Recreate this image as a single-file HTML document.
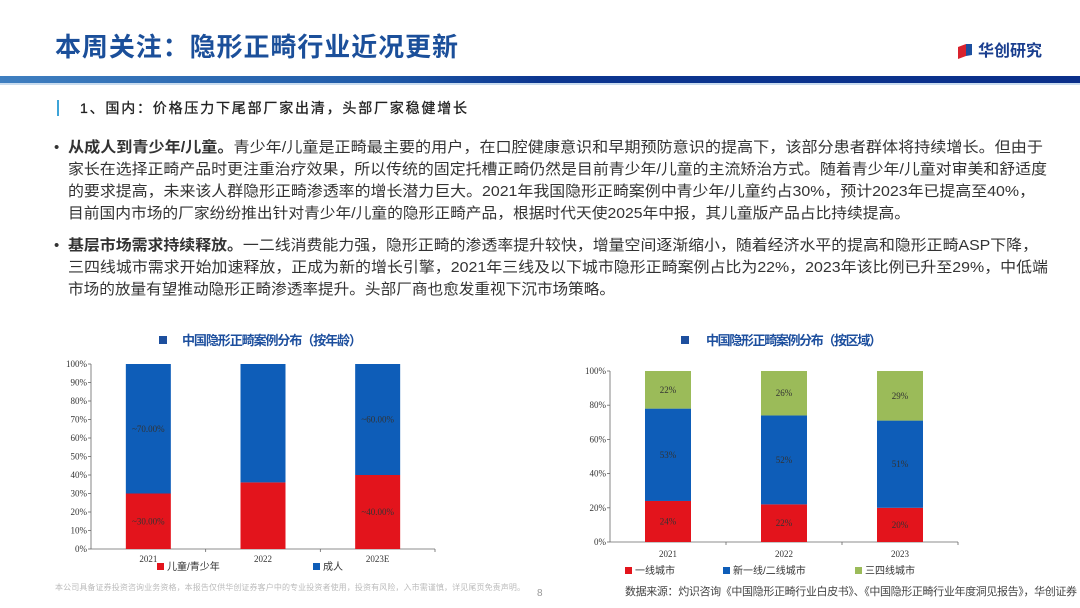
<!DOCTYPE html>
<html><head><meta charset="utf-8"><style>
html,body{margin:0;padding:0;background:#fff;width:1080px;height:608px;overflow:hidden}
svg{display:block}
text{font-family:"Liberation Sans","Noto Sans CJK SC",sans-serif}
.s{font-family:"Liberation Serif","Noto Serif CJK SC",serif}
</style></head><body>
<svg id="page" width="1080" height="608" viewBox="0 0 1080 608">
<defs>
<linearGradient id="hb" x1="0" x2="1" y1="0" y2="0">
<stop offset="0" stop-color="#3f7fc0"/><stop offset="0.35" stop-color="#1f5aa8"/><stop offset="0.5" stop-color="#0c3690"/><stop offset="1" stop-color="#0a2f8a"/>
</linearGradient>
</defs>
<text x="55" y="56" font-size="26" font-weight="bold" fill="#1b4f9a" textLength="403">本周关注：隐形正畸行业近况更新</text>
<g>
<polygon points="958,47 966,44 966,56 958,59" fill="#d9232e"/>
<polygon points="966,44 972,44 972,55 966,56" fill="#1d4f9e"/>
<text x="978" y="56" font-size="16" font-weight="bold" fill="#1b3f8f" textLength="64">华创研究</text>
</g>
<rect x="0" y="76" width="1080" height="7" fill="url(#hb)"/>
<rect x="0" y="83" width="1080" height="2" fill="#c9dcef"/>
<rect x="57" y="100" width="2" height="16" fill="#3ea4d8"/>
<text x="80" y="113" font-size="14" fill="#222" stroke="#222" stroke-width="0.3" textLength="387">1、国内：价格压力下尾部厂家出清，头部厂家稳健增长</text>
<g font-size="15" fill="#333">
<text x="54" y="152">•</text>
<text x="68" y="152" textLength="975" lengthAdjust="spacingAndGlyphs"><tspan font-weight="bold">从成人到青少年/儿童。</tspan>青少年/儿童是正畸最主要的用户，在口腔健康意识和早期预防意识的提高下，该部分患者群体将持续增长。但由于</text>
<text x="68" y="174" textLength="979" lengthAdjust="spacingAndGlyphs">家长在选择正畸产品时更注重治疗效果，所以传统的固定托槽正畸仍然是目前青少年/儿童的主流矫治方式。随着青少年/儿童对审美和舒适度</text>
<text x="68" y="196" textLength="967" lengthAdjust="spacingAndGlyphs">的要求提高，未来该人群隐形正畸渗透率的增长潜力巨大。2021年我国隐形正畸案例中青少年/儿童约占30%，预计2023年已提高至40%，</text>
<text x="68" y="218" textLength="842" lengthAdjust="spacingAndGlyphs">目前国内市场的厂家纷纷推出针对青少年/儿童的隐形正畸产品，根据时代天使2025年中报，其儿童版产品占比持续提高。</text>
<text x="54" y="250">•</text>
<text x="68" y="250" textLength="970" lengthAdjust="spacingAndGlyphs"><tspan font-weight="bold">基层市场需求持续释放。</tspan>一二线消费能力强，隐形正畸的渗透率提升较快，增量空间逐渐缩小，随着经济水平的提高和隐形正畸ASP下降，</text>
<text x="68" y="272" textLength="980" lengthAdjust="spacingAndGlyphs">三四线城市需求开始加速释放，正成为新的增长引擎，2021年三线及以下城市隐形正畸案例占比为22%，2023年该比例已升至29%，中低端</text>
<text x="68" y="294" textLength="547" lengthAdjust="spacingAndGlyphs">市场的放量有望推动隐形正畸渗透率提升。头部厂商也愈发重视下沉市场策略。</text>
</g>
<g id="c1">
<rect x="159" y="336" width="8" height="8" fill="#1d4f9e"/>
<text x="182" y="345" font-size="13" font-weight="bold" fill="#1d4f9e" textLength="180">中国隐形正畸案例分布（按年龄）</text>
</g>
<g id="c2">
<rect x="681" y="336" width="8" height="8" fill="#1d4f9e"/>
<text x="706" y="345" font-size="13" font-weight="bold" fill="#1d4f9e" textLength="176">中国隐形正畸案例分布（按区域）</text>
</g>
<text x="55" y="590" font-size="8" fill="#bbb" textLength="470">本公司具备证券投资咨询业务资格，本报告仅供华创证券客户中的专业投资者使用，投资有风险，入市需谨慎，详见尾页免责声明。</text>
<text x="537" y="596" font-size="10" fill="#999">8</text>
<text x="625" y="595" font-size="11" fill="#444" textLength="452">数据来源：灼识咨询《中国隐形正畸行业白皮书》、《中国隐形正畸行业年度洞见报告》，华创证券</text>
</svg>
<script>
var ageCategories = ["2021", "2022", "2023E"];
var ageChild = [30, 36, 40];
var ageAdult = [70, 64, 60];
var ageChildLabels = ["~30.00%", "", "~40.00%"];
var ageAdultLabels = ["~70.00%", "", "~60.00%"];
var ageTicks = [0,10,20,30,40,50,60,70,80,90,100];

var regCategories = ["2021", "2022", "2023"];
var regTier1 = [24, 22, 20];
var regNewTier = [53, 52, 51];
var regTier3 = [22, 26, 29];
var regTicks = [0,20,40,60,80,100];

var NS = "http://www.w3.org/2000/svg";
function mk(parent, tag, attrs, txt){
  var e = document.createElementNS(NS, tag);
  for (var k in attrs) e.setAttribute(k, attrs[k]);
  if (txt !== undefined) e.textContent = txt;
  parent.appendChild(e); return e;
}
var RED = "#e3141c", BLUE = "#0e5db8", GREEN = "#9bbb59";

(function(){
  var g = document.getElementById("c1");
  var x0 = 91, x1 = 435, yTop = 364, yBot = 549;
  function y(v){ return yBot - (yBot - yTop) * v / 100; }
  var step = (x1 - x0) / ageCategories.length, bw = 45;
  function xc(i){ return x0 + step * (i + 0.5); }
  ageTicks.forEach(function(t){
    var tk = mk(g, "text", {x: x0 - 4, y: y(t) + 3, "font-size": 9, "text-anchor": "end", fill: "#333", "class": "s"}, t + "%");
    
    
    mk(g, "line", {x1: x0 - 3, x2: x0, y1: y(t), y2: y(t), stroke: "#666", "stroke-width": 0.8});
  });
  mk(g, "line", {x1: x0, x2: x0, y1: yTop, y2: yBot, stroke: "#666", "stroke-width": 0.8});
  mk(g, "line", {x1: x0, x2: x1, y1: yBot, y2: yBot, stroke: "#666", "stroke-width": 0.8});
  ageCategories.forEach(function(c, i){
    var cx = xc(i);
    var r1 = mk(g, "rect", {x: cx - bw/2, y: y(ageChild[i]), width: bw, height: y(0) - y(ageChild[i]), fill: RED});
    
    
    var r2 = mk(g, "rect", {x: cx - bw/2, y: y(ageChild[i] + ageAdult[i]), width: bw, height: y(ageChild[i]) - y(ageChild[i] + ageAdult[i]), fill: BLUE});
    
    
    if (ageChildLabels[i]) mk(g, "text", {x: cx, y: y(ageChild[i]/2) + 3, "font-size": 9, "text-anchor": "middle", fill: "#333", "class": "s"}, ageChildLabels[i]);
    if (ageAdultLabels[i]) mk(g, "text", {x: cx, y: y(ageChild[i] + ageAdult[i]/2) + 3, "font-size": 9, "text-anchor": "middle", fill: "#333", "class": "s"}, ageAdultLabels[i]);
    var lb = mk(g, "text", {x: cx, y: yBot + 13, "font-size": 9, "text-anchor": "middle", fill: "#333", "class": "s"}, c);
    
    
    mk(g, "line", {x1: x0 + step*(i+1), x2: x0 + step*(i+1), y1: yBot, y2: yBot + 3, stroke: "#666", "stroke-width": 0.8});
  });
  var l1 = mk(g, "g", {});
  
  
  mk(l1, "rect", {x: 157, y: 563, width: 7, height: 7, fill: RED});
  mk(l1, "text", {x: 167, y: 570, "font-size": 10, fill: "#333"}, "儿童/青少年");
  var l2 = mk(g, "g", {});
  
  
  mk(l2, "rect", {x: 313, y: 563, width: 7, height: 7, fill: BLUE});
  mk(l2, "text", {x: 323, y: 570, "font-size": 10, fill: "#333"}, "成人");
})();

(function(){
  var g = document.getElementById("c2");
  var x0 = 610, x1 = 958, yTop = 371, yBot = 542;
  function y(v){ return yBot - (yBot - yTop) * v / 100; }
  var step = (x1 - x0) / regCategories.length, bw = 46;
  function xc(i){ return x0 + step * (i + 0.5); }
  regTicks.forEach(function(t){
    var tk = mk(g, "text", {x: x0 - 4, y: y(t) + 3, "font-size": 9, "text-anchor": "end", fill: "#333", "class": "s"}, t + "%");
    
    
    mk(g, "line", {x1: x0 - 3, x2: x0, y1: y(t), y2: y(t), stroke: "#666", "stroke-width": 0.8});
  });
  mk(g, "line", {x1: x0, x2: x0, y1: yTop, y2: yBot, stroke: "#666", "stroke-width": 0.8});
  mk(g, "line", {x1: x0, x2: x1, y1: yBot, y2: yBot, stroke: "#666", "stroke-width": 0.8});
  regCategories.forEach(function(c, i){
    var cx = xc(i);
    var a = regTier1[i], b = regNewTier[i], d = regTier3[i];
    var r1 = mk(g, "rect", {x: cx - bw/2, y: y(a), width: bw, height: y(0) - y(a), fill: RED});
    
    
    var r2 = mk(g, "rect", {x: cx - bw/2, y: y(100 - d), width: bw, height: y(a) - y(100 - d), fill: BLUE});
    
    
    var r3 = mk(g, "rect", {x: cx - bw/2, y: y(100), width: bw, height: y(100 - d) - y(100), fill: GREEN});
    
    
    mk(g, "text", {x: cx, y: y(a/2) + 3, "font-size": 9, "text-anchor": "middle", fill: "#333", "class": "s"}, a + "%");
    mk(g, "text", {x: cx, y: y(a + (100 - d - a)/2) + 3, "font-size": 9, "text-anchor": "middle", fill: "#333", "class": "s"}, b + "%");
    mk(g, "text", {x: cx, y: y(100 - d/2) + 3, "font-size": 9, "text-anchor": "middle", fill: "#333", "class": "s"}, d + "%");
    var lb = mk(g, "text", {x: cx, y: yBot + 15, "font-size": 9, "text-anchor": "middle", fill: "#333", "class": "s"}, c);
    
    
    mk(g, "line", {x1: x0 + step*(i+1), x2: x0 + step*(i+1), y1: yBot, y2: yBot + 3, stroke: "#666", "stroke-width": 0.8});
  });
  var items = [["一线城市", RED, 625], ["新一线/二线城市", BLUE, 723], ["三四线城市", GREEN, 855]];
  items.forEach(function(it){
    var lg = mk(g, "g", {});
    
    
    mk(lg, "rect", {x: it[2], y: 567, width: 7, height: 7, fill: it[1]});
    mk(lg, "text", {x: it[2] + 10, y: 574, "font-size": 10, fill: "#333"}, it[0]);
  });
})();
</script>
</body></html>
